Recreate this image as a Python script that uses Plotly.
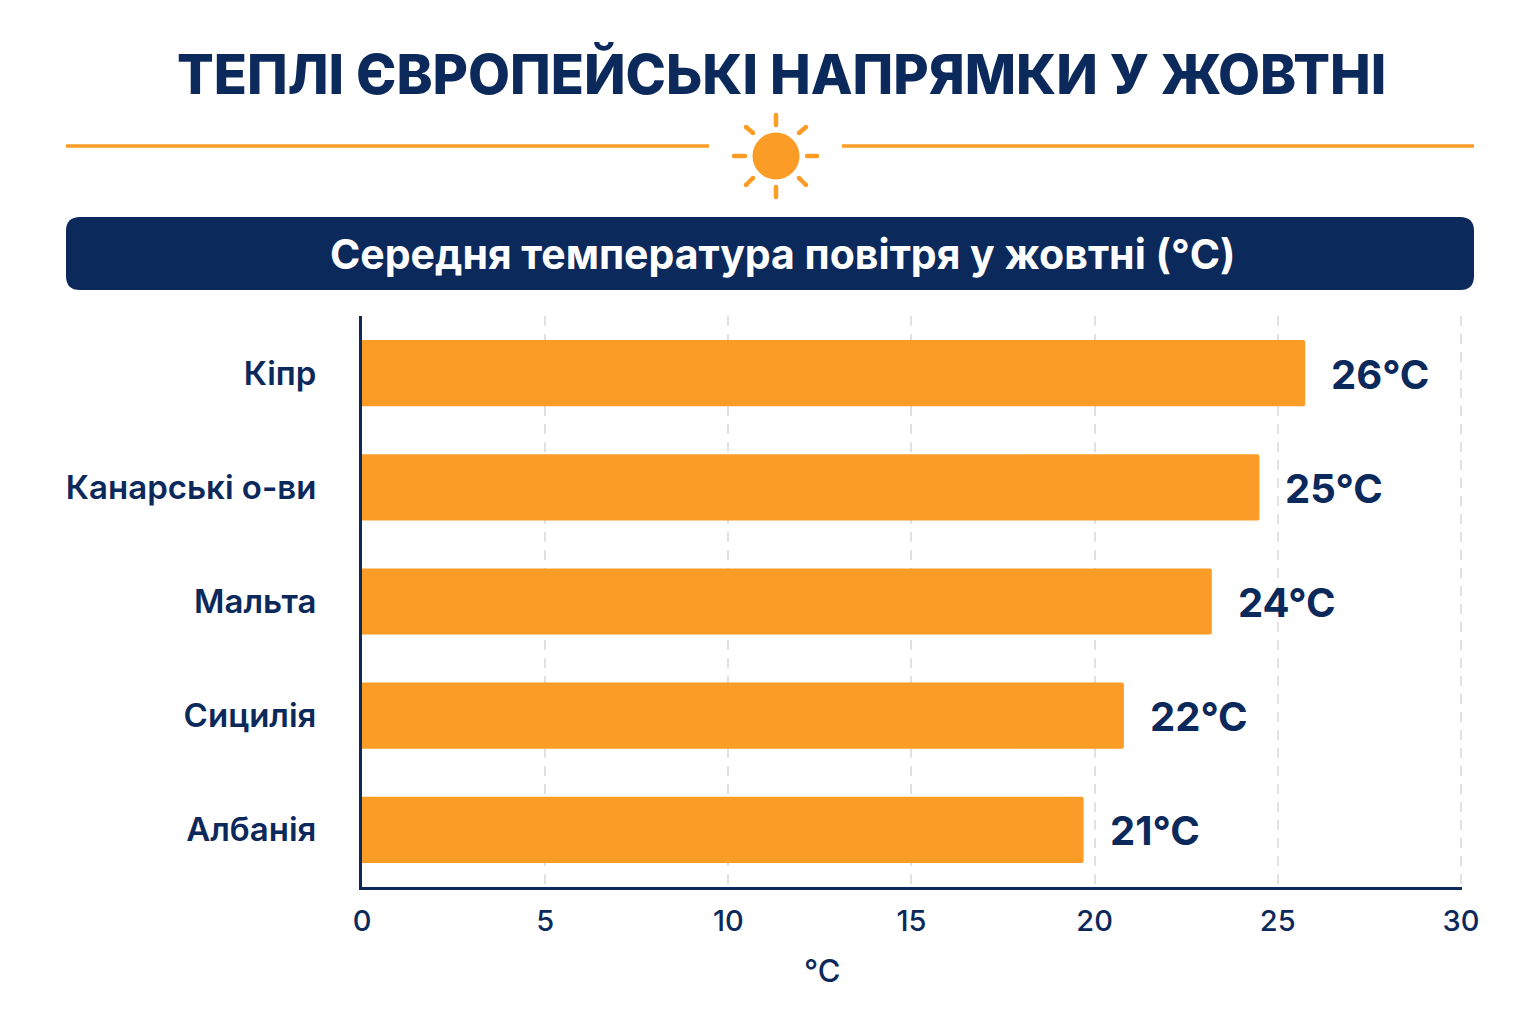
import plotly.graph_objects as go

# chart data
countries = ["Кіпр", "Канарські о-ви", "Мальта", "Сицилія", "Албанія"]
bar_values = [25.75, 24.5, 23.2, 20.8, 19.7]
value_labels = ["26°C", "25°C", "24°C", "22°C", "21°C"]
x_ticks = [0, 5, 10, 15, 20, 25, 30]

NAVY = "#0c295b"
ORANGE = "#fb9c26"
FONT = "Inter"

# the page body has an 8px margin, so the figure is 16px smaller than the window
PAGE = 8
W, H = 1536 - 2 * PAGE, 1024 - 2 * PAGE
ML, MR, MT, MB = 362 - PAGE, 74 - PAGE, 316 - PAGE, 137 - PAGE
PW, PH = W - ML - MR, H - MT - MB


# page pixel -> paper fraction
def px(x):
    return (x - PAGE - ML) / PW


def py(y):
    return 1 - (y - PAGE - MT) / PH


fig = go.Figure(go.Bar(
    y=countries,
    x=bar_values,
    orientation="h",
    width=0.58,
    marker=dict(color=ORANGE, line_width=0, cornerradius=2),
    cliponaxis=False,
))

shapes = []


def add_line(x0, y0, x1, y1, color=ORANGE, width=3.5):
    shapes.append(dict(type="line", xref="paper", yref="paper",
                       x0=px(x0), y0=py(y0), x1=px(x1), y1=py(y1),
                       line=dict(color=color, width=width)))


def add_dot(x, y, r):
    shapes.append(dict(type="circle", xref="paper", yref="paper",
                       x0=px(x - r), y0=py(y + r), x1=px(x + r), y1=py(y - r),
                       fillcolor=ORANGE, line_width=0))


# divider and sun
add_line(66, 146, 709, 146)
add_line(842, 146, 1474, 146)
add_dot(776, 156, 23.5)
for x0, y0, x1, y1 in [(776, 115, 776, 125), (776, 187, 776, 197),
                       (734, 156, 745, 156), (807, 156, 817, 156),
                       (746, 127, 753, 133), (799, 133, 806, 127),
                       (746, 185, 753, 178), (799, 178, 806, 185)]:
    add_line(x0, y0, x1, y1, width=4.5)
    add_dot(x0, y0, 2.25)
    add_dot(x1, y1, 2.25)

# subtitle band
L, R, T, B, r = px(66), px(1474), py(217), py(290), 14 / PW
ry = 14 / PH
shapes.append(dict(
    type="path", xref="paper", yref="paper", fillcolor=NAVY, line_width=0,
    path=(f"M {L + r} {B} L {R - r} {B} Q {R} {B} {R} {B + ry} L {R} {T - ry} "
          f"Q {R} {T} {R - r} {T} L {L + r} {T} Q {L} {T} {L} {T - ry} "
          f"L {L} {B + ry} Q {L} {B} {L + r} {B} Z"),
))

annotations = [
    dict(text="ТЕПЛІ ЄВРОПЕЙСЬКІ НАПРЯМКИ У ЖОВТНІ", x=px(781), y=py(74),
         font=dict(family=FONT, size=54.4, color=NAVY, weight=800)),
    dict(text="Середня температура повітря у жовтні (°C)", x=px(783), y=py(254),
         font=dict(family=FONT, size=41, color="white", weight=700)),
    dict(text="°C", x=px(822), y=py(970),
         font=dict(family=FONT, size=31, color=NAVY, weight=500)),
]
for a in annotations:
    a.update(xref="paper", yref="paper", xanchor="center", yanchor="middle",
             showarrow=False)

# value labels sit a fixed distance past the bar ends
for country, value, label in zip(countries, bar_values, value_labels):
    annotations.append(dict(
        x=value, y=country, xref="x", yref="y", text=label, showarrow=False,
        xanchor="left", yanchor="middle", xshift=24, yshift=-1,
        font=dict(family=FONT, size=40, color=NAVY, weight=700),
    ))

fig.update_layout(
    width=W,
    height=H,
    margin=dict(l=ML, r=MR, t=MT, b=MB, pad=0),
    paper_bgcolor="white",
    plot_bgcolor="white",
    showlegend=False,
    shapes=shapes,
    annotations=annotations,
    font=dict(family=FONT, color=NAVY),
)
fig.update_xaxes(
    range=[0, 30.03],  # just past 30 so the last gridline is still drawn
    tickvals=x_ticks,
    tickfont=dict(family=FONT, size=29, color=NAVY, weight=500),
    ticks="outside",
    ticklen=6,
    tickcolor="rgba(0,0,0,0)",
    showgrid=True,
    gridcolor="#dfe1e4",
    griddash="10px,8px",
    gridwidth=2,
    zeroline=False,
    showline=True,
    linecolor=NAVY,
    linewidth=3,
)
fig.update_yaxes(
    autorange="reversed",
    tickfont=dict(family=FONT, size=33, color=NAVY, weight=600),
    ticks="outside",
    ticklen=36,
    tickcolor="rgba(0,0,0,0)",
    showgrid=False,
    zeroline=False,
    showline=True,
    linecolor=NAVY,
    linewidth=3,
)

fig.write_html("out.html")
